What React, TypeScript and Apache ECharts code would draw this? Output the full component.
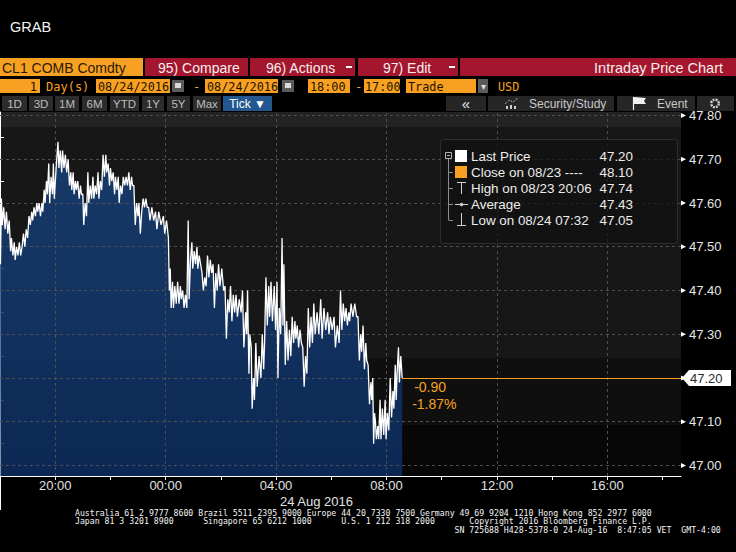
import React, { useEffect, useRef } from 'react';
import * as echarts from 'echarts';

// ---------- data ----------
const tickTimes: string[] = [
  '18:00','18:01','18:03','18:05','18:08','18:11','18:14','18:17','18:20','18:23','18:25','18:28','18:31','18:33','18:36','18:39','18:42','18:45','18:48','18:51','18:54','18:57',
  '19:00','19:03','19:06','19:09','19:11','19:14','19:17','19:20','19:22','19:25','19:28','19:31','19:33','19:36','19:38','19:41','19:43','19:46','19:48','19:51','19:54','19:56','19:58',
  '20:02','20:04','20:06','20:08','20:11','20:14','20:16','20:19','20:22','20:25','20:28','20:31','20:34','20:36','20:39','20:41','20:44','20:46','20:49','20:52','20:55','20:57',
  '21:00','21:02','21:05','21:08','21:11','21:13','21:16','21:19','21:22','21:24','21:27','21:30','21:33','21:35','21:38','21:41','21:44','21:47','21:50','21:52','21:55','21:58',
  '22:00','22:03','22:06','22:09','22:11','22:14','22:17','22:19','22:22','22:25','22:28','22:31','22:34','22:37','22:40','22:43','22:46','22:48','22:51','22:54','22:57',
  '23:00','23:02','23:05','23:08','23:11','23:14','23:17','23:20','23:23','23:26','23:30','23:34','23:38','23:41','23:45','23:50','23:55','23:58',
  '00:02','00:04','00:06','00:08','00:10','00:12','00:15','00:17','00:20','00:23','00:26','00:29','00:32','00:34','00:37','00:40','00:43','00:46','00:49','00:51','00:54','00:57','00:59',
  '01:02','01:05','01:08','01:10','01:13','01:16','01:19','01:22','01:25','01:28','01:31','01:34','01:37','01:40','01:43','01:46','01:49','01:52','01:55','01:58',
  '02:02','02:06','02:09','02:12','02:15','02:18','02:21','02:24','02:27','02:30','02:33','02:36','02:40','02:44','02:47','02:50','02:54','02:56','02:58',
  '03:01','03:03','03:06','03:08','03:11','03:13','03:16','03:19','03:23','03:27','03:30','03:33','03:35','03:38','03:41','03:44','03:46','03:49','03:52','03:56','03:59',
  '04:02','04:04','04:07','04:10','04:13','04:15','04:17','04:20','04:23','04:26','04:29','04:32','04:35','04:38','04:41','04:43','04:46','04:49','04:52','04:55','04:58',
  '05:01','05:04','05:07','05:10','05:13','05:16','05:19','05:22','05:25','05:29','05:33','05:37','05:40','05:44','05:48','05:52','05:55','05:58',
  '06:02','06:06','06:09','06:13','06:17','06:20','06:23','06:26','06:29','06:32','06:35','06:38','06:40','06:43','06:47','06:51','06:55','06:58',
  '07:01','07:04','07:06','07:09','07:12','07:15','07:17','07:20','07:23','07:26','07:28','07:30','07:32','07:34','07:36','07:38','07:41','07:43','07:46','07:48','07:51','07:54','07:57','07:59',
  '08:02','08:05','08:08','08:11','08:14','08:16','08:19','08:21','08:23','08:26','08:28','08:31','08:34',
];
const tickPrices: number[] = [
  47.58,47.46,47.61,47.55,47.59,47.54,47.58,47.53,47.56,47.49,47.52,47.48,47.51,47.47,47.50,47.48,47.51,47.48,47.50,47.53,47.50,47.54,
  47.52,47.57,47.55,47.58,47.56,47.59,47.57,47.60,47.58,47.60,47.57,47.60,47.58,47.63,47.60,47.65,47.62,47.69,47.60,47.66,47.62,47.69,47.61,
  47.68,47.71,47.74,47.68,47.72,47.67,47.72,47.68,47.71,47.67,47.70,47.64,47.67,47.63,47.67,47.62,47.65,47.63,47.65,47.61,47.64,47.62,
  47.62,47.55,47.60,47.57,47.67,47.60,47.64,47.61,47.66,47.61,47.64,47.62,47.67,47.61,47.65,47.63,47.71,47.66,47.71,47.67,47.69,47.64,
  47.68,47.65,47.67,47.62,47.66,47.63,47.66,47.60,47.64,47.62,47.66,47.64,47.66,47.64,47.67,47.63,47.66,47.64,47.64,47.55,47.60,
  47.57,47.60,47.53,47.58,47.61,47.59,47.61,47.59,47.59,47.56,47.59,47.56,47.58,47.54,47.58,47.55,47.57,47.53,
  47.56,47.54,47.52,47.40,47.45,47.36,47.42,47.36,47.41,47.37,47.42,47.37,47.41,47.38,47.40,47.36,47.39,47.36,47.56,47.38,47.47,47.51,47.45,
  47.49,47.46,47.50,47.45,47.48,47.46,47.44,47.40,47.43,47.41,47.48,47.43,47.47,47.44,47.46,47.36,47.44,47.40,47.46,47.41,
  47.45,47.40,47.41,47.29,47.38,47.35,47.41,47.33,47.39,47.35,47.39,47.34,47.38,47.35,47.40,47.27,47.35,47.30,47.40,
  47.21,47.30,47.27,47.13,47.20,47.15,47.28,47.18,47.25,47.20,47.30,47.22,47.28,47.43,47.32,47.41,47.34,47.42,47.33,47.41,47.31,
  47.42,47.20,47.36,47.30,47.52,47.32,47.46,47.23,47.33,47.24,47.31,47.25,47.34,47.28,47.33,47.29,47.32,47.27,47.31,47.28,47.27,
  47.18,47.25,47.21,47.36,47.27,47.34,47.28,47.37,47.30,47.35,47.30,47.38,47.29,47.36,47.31,47.35,47.30,47.34,
  47.31,47.34,47.27,47.32,47.28,47.40,47.31,47.37,47.33,47.36,47.32,47.35,47.33,47.37,47.34,47.37,47.34,47.34,
  47.24,47.30,47.26,47.32,47.22,47.28,47.24,47.23,47.14,47.19,47.15,47.20,47.05,47.12,47.10,47.06,47.09,47.06,47.15,47.06,47.13,47.07,47.15,47.06,
  47.12,47.08,47.20,47.11,47.17,47.13,47.23,47.15,47.21,47.27,47.19,47.25,47.20,
];

const priceTicks = [47.0, 47.1, 47.2, 47.3, 47.4, 47.5, 47.6, 47.7, 47.8];
const minorPriceTicks = [47.05, 47.15, 47.25, 47.35, 47.45, 47.55, 47.65, 47.75];
const timeLabels = ['20:00', '00:00', '04:00', '08:00', '12:00', '16:00'];
const sessionEnd = '18:40'; // on the following day
const dateLabel = '24 Aug 2016';

const legendLabels = ['Last Price', 'Close on 08/23 ----', 'High on 08/23 20:06', 'Average', 'Low on 08/24 07:32'];
const legendValues = ['47.20', '48.10', '47.74', '47.43', '47.05'];
const lastPrice = 47.2;
const netChange = '-0.90';
const pctChange = '-1.87%';

// footer lines as [column, text] pieces (monospace columns)
const footerLines: [number, string][][] = [
  [[0, 'Australia 61 2 9777 8600 Brazil 5511 2395 9000 Europe 44 20 7330 7500 Germany 49 69 9204 1210 Hong Kong 852 2977 6000']],
  [[0, 'Japan 81 3 3201 8900'], [26, 'Singapore 65 6212 1000'], [54, 'U.S. 1 212 318 2000'], [80, 'Copyright 2016 Bloomberg Finance L.P.']],
  [[77, 'SN 725688 H428-5378-0 24-Aug-16'], [110, '8:47:05 VET'], [123, 'GMT-4:00']],
];

// minutes since the 18:00 session start
const toMin = (t: string) => {
  const [h, m] = t.split(':').map(Number);
  return ((h - 18 + 24) % 24) * 60 + m;
};
const fmtMin = (v: number) => {
  const h = (18 + Math.floor(v / 60)) % 24;
  const m = v % 60;
  return `${String(h).padStart(2, '0')}:${String(m).padStart(2, '0')}`;
};
const NBSP = '\u00a0';
const padLine = (pieces: [number, string][]) => {
  let s = '';
  pieces.forEach(([c, t]) => {
    while (s.length < c) s += NBSP;
    s += t.replace(/ /g, NBSP);
  });
  return s;
};

const ORANGE = '#f7a021';
const RED = '#a3162d';
const SANS = 'Liberation Sans, Arial, sans-serif';
const MONO = 'DejaVu Sans Mono, monospace';

const T = (x: number, y: number, text: string, o: any = {}) => ({
  type: 'text', x, y, z: o.z ?? 30, silent: true,
  style: {
    text, fill: o.fill ?? '#fff', fontSize: o.size ?? 13, fontFamily: o.font ?? SANS,
    fontWeight: o.weight ?? 'normal', lineHeight: o.lh,
    textAlign: o.align ?? 'left', align: o.align ?? 'left',
    textVerticalAlign: o.va ?? 'middle', verticalAlign: o.va ?? 'middle',
  },
});
const R = (x: number, y: number, w: number, h: number, fill: string, o: any = {}) => ({
  type: 'rect', z: o.z ?? 20, silent: true,
  shape: { x, y, width: w, height: h, r: o.r ?? 0 },
  style: { fill, stroke: o.stroke ?? null, lineWidth: o.lw ?? 1 },
});
const L = (x1: number, y1: number, x2: number, y2: number, stroke: string, o: any = {}) => ({
  type: 'line', z: o.z ?? 25, silent: true,
  shape: { x1, y1, x2, y2 },
  style: { stroke, lineWidth: o.lw ?? 1 },
});

export default function App() {
  const ref = useRef<HTMLDivElement>(null);
  useEffect(() => {
    const chart = echarts.init(ref.current!, null, { renderer: 'svg' });
    const data = tickTimes.map((t, i) => [toMin(t), tickPrices[i]]);
    const lastMin = toMin(tickTimes[tickTimes.length - 1]);
    const xMax = 24 * 60 + toMin(sessionEnd);
    const gridX = timeLabels.map(toMin);

    chart.setOption({
      animation: false,
      backgroundColor: '#000',
      grid: { left: 0, right: 55, top: 112, bottom: 76 },
      xAxis: {
        type: 'value', min: 0, max: xMax, interval: 120,
        axisLine: { show: true, lineStyle: { color: '#fff', width: 1 } },
        axisTick: { show: true, length: 4, lineStyle: { color: '#fff' } },
        splitLine: { show: false },
        axisLabel: {
          color: '#e2e2e2', fontSize: 13, fontFamily: SANS, margin: 3,
          showMinLabel: false, showMaxLabel: false,
          formatter: (v: number) => (v % 120 === 0 && timeLabels.includes(fmtMin(v)) ? fmtMin(v) : ''),
        },
      },
      yAxis: {
        type: 'value', position: 'right', min: 46.976, max: 47.808, scale: true,
        axisLine: { show: true, lineStyle: { color: '#fff', width: 1 } },
        axisTick: { show: true, length: 4, lineStyle: { color: '#fff' }, customValues: minorPriceTicks },
        splitLine: { show: false },
        axisLabel: {
          color: '#e6e6e6', fontSize: 13, fontFamily: SANS, margin: 8,
          customValues: priceTicks, formatter: (v: number) => v.toFixed(2),
        },
      },
      series: [
        {
          type: 'line', data, z: 2, symbol: 'none', silent: true,
          lineStyle: { width: 0, opacity: 0 },
          areaStyle: {
            origin: 'start', opacity: 1,
            color: new echarts.graphic.LinearGradient(0, 0, 0, 1, [
              { offset: 0, color: 'rgba(23,64,118,0.86)' },
              { offset: 1, color: 'rgba(13,44,94,0.88)' },
            ]),
          },
        },
        {
          type: 'line', data: [], z: 3, silent: true,
          markLine: {
            silent: true, symbol: 'none', z: 3, label: { show: false },
            lineStyle: { color: '#4f4f4f', type: [3, 3], width: 1 },
            data: [...priceTicks.map((v) => ({ yAxis: v })), ...gridX.map((v) => ({ xAxis: v }))],
          },
        },
        {
          type: 'line', data, z: 6, symbol: 'none', silent: true,
          lineStyle: { color: '#ffffff', width: 1.3 },
          markLine: {
            silent: true, symbol: 'none', z: 7, label: { show: false },
            lineStyle: { color: ORANGE, type: 'solid', width: 1.2 },
            data: [[{ coord: [lastMin, lastPrice] }, { coord: [xMax, lastPrice] }]],
          },
        },
      ],
    });

    const [, yLast] = chart.convertToPixel({ gridIndex: 0 }, [0, lastPrice]) as number[];
    const [xLast] = chart.convertToPixel({ gridIndex: 0 }, [lastMin, lastPrice]) as number[];
    const [xRight] = chart.convertToPixel({ gridIndex: 0 }, [xMax, lastPrice]) as number[];
    const [, yTop] = chart.convertToPixel({ gridIndex: 0 }, [0, 47.808]) as number[];
    const [, yBot] = chart.convertToPixel({ gridIndex: 0 }, [0, 46.976]) as number[];

    const g: any[] = [];
    // plot background bands
    g.push(R(0, yTop, xRight, 15, '#232323', { z: 0 }));
    g.push(R(0, yTop + 15, xRight, 231, '#171717', { z: 0 }));
    g.push(R(0, yTop + 246, xRight, 67, '#0f0f0f', { z: 0 }));
    g.push(R(0, yTop + 313, xRight, yBot - yTop - 313, '#070707', { z: 0 }));

    // arrow-shaped major ticks on the price axis
    priceTicks.forEach((v) => {
      const [, py] = chart.convertToPixel({ gridIndex: 0 }, [0, v]) as number[];
      g.push({ type: 'polygon', z: 26, silent: true, shape: { points: [[xRight, py - 2.5], [xRight + 5, py], [xRight, py + 2.5]] }, style: { fill: '#ffffff' } });
    });

    // title
    g.push(T(10, 27, 'GRAB', { size: 14.5, fill: '#f2f2f2' }));

    // row 1
    g.push(R(0, 58, 143, 18, ORANGE));
    g.push(T(2, 67.5, 'CL1 COMB Comdty', { size: 14, fill: '#2a1c05' }));
    g.push(R(145, 58, 103, 18, RED));
    g.push(T(158, 67.5, '95) Compare', { size: 14, fill: '#f6eeee' }));
    g.push(R(250, 58, 105, 18, RED));
    g.push(T(266, 67.5, '96) Actions', { size: 14, fill: '#f6eeee' }));
    g.push(R(346, 66, 6, 2, '#fff', { z: 25 }));
    g.push(R(358, 58, 100, 18, RED));
    g.push(T(383, 67.5, '97) Edit', { size: 14, fill: '#f6eeee' }));
    g.push(R(449, 66, 6, 2, '#fff', { z: 25 }));
    g.push(R(460, 58, 276, 18, RED));
    g.push(T(723, 67.5, 'Intraday Price Chart', { size: 14.5, fill: '#f6eeee', align: 'right' }));

    // row 2
    const r2y = 79, r2h = 14, r2c = 86.5;
    g.push(R(0, r2y, 40, r2h, ORANGE));
    g.push(T(37, r2c, '1', { size: 12, font: MONO, fill: '#1e1400', align: 'right' }));
    g.push(T(46, r2c, 'Day(s)', { size: 12, font: MONO, fill: ORANGE }));
    g.push(R(96, r2y, 74, r2h, ORANGE));
    g.push(T(98, r2c, '08/24/2016', { size: 11.8, font: MONO, fill: '#1e1400' }));
    g.push(R(172, r2y + 1, 12, 12, '#5b5b5b'));
    g.push(R(175, r2y + 4, 6, 5, '#d8d8d8', { z: 25 }));
    g.push(T(193, r2c, '-', { size: 12, font: MONO, fill: ORANGE }));
    g.push(R(205, r2y, 73, r2h, ORANGE));
    g.push(T(207, r2c, '08/24/2016', { size: 11.8, font: MONO, fill: '#1e1400' }));
    g.push(R(282, r2y + 1, 12, 12, '#5b5b5b'));
    g.push(R(285, r2y + 4, 6, 5, '#d8d8d8', { z: 25 }));
    g.push(R(308, r2y, 42, r2h, ORANGE));
    g.push(T(310, r2c, '18:00', { size: 11.8, font: MONO, fill: '#1e1400' }));
    g.push(T(355, r2c, '-', { size: 12, font: MONO, fill: ORANGE }));
    g.push(R(364, r2y, 36, r2h, ORANGE));
    g.push(T(365, r2c, '17:00', { size: 11.8, font: MONO, fill: '#1e1400' }));
    g.push(R(406, r2y, 70, r2h, ORANGE));
    g.push(T(408, r2c, 'Trade', { size: 11.8, font: MONO, fill: '#1e1400' }));
    g.push(R(478, r2y, 10, r2h, '#5b5b5b'));
    g.push(T(483, r2c, '▾', { size: 10, fill: '#ddd', align: 'center' }));
    g.push(T(498, r2c, 'USD', { size: 11.8, font: MONO, fill: ORANGE }));

    // row 3
    const btns: [string, number, number][] = [
      ['1D', 2, 25], ['3D', 29, 24], ['1M', 55, 24], ['6M', 82, 25], ['YTD', 110, 29],
      ['1Y', 142, 22], ['5Y', 167, 23], ['Max', 193, 28],
    ];
    btns.forEach(([t, x, w]) => {
      g.push(R(x, 96, w, 15, '#2c2c2c'));
      g.push(T(x + w / 2, 103.5, t, { size: 11.5, fill: '#bdbdbd', align: 'center' }));
    });
    g.push(R(223, 96, 49, 15, '#22578f'));
    g.push(T(247.5, 103.5, 'Tick ▼', { size: 12, fill: '#ffffff', align: 'center' }));
    g.push(R(446, 96, 40, 15, '#262626'));
    g.push(T(466, 103, '«', { size: 15, fill: '#e6e6e6', align: 'center' }));
    g.push(R(488, 96, 126, 15, '#262626'));
    g.push({ type: 'polyline', z: 25, silent: true, shape: { points: [[505, 104], [509, 100], [513, 102], [518, 98]] }, style: { stroke: '#cfcfcf', lineWidth: 1, lineDash: [1, 1], fill: null } });
    g.push(R(506, 106, 2, 3, '#cfcfcf', { z: 25 }));
    g.push(R(510, 105, 2, 4, '#cfcfcf', { z: 25 }));
    g.push(R(514, 106, 2, 3, '#cfcfcf', { z: 25 }));
    g.push(T(529, 103.5, 'Security/Study', { size: 12, fill: '#c8c8c8' }));
    g.push(R(617, 96, 78, 15, '#262626'));
    g.push(L(633.5, 97, 633.5, 110, '#f0f0f0', { lw: 1.2 }));
    g.push({ type: 'polygon', z: 25, silent: true, shape: { points: [[634, 97], [646, 98], [644, 101], [646, 104], [634, 104]] }, style: { fill: '#f0f0f0' } });
    g.push(T(657, 103.5, 'Event', { size: 12, fill: '#c8c8c8' }));
    g.push(R(697, 96, 37, 15, '#262626'));
    g.push({ type: 'circle', z: 25, silent: true, shape: { cx: 715, cy: 103.5, r: 3.8 }, style: { fill: '#262626', stroke: '#cfcfcf', lineWidth: 2.4, lineDash: [2, 1] } });

    // legend box
    g.push(R(440.5, 139.5, 237, 104, 'rgba(18,18,18,0.75)', { stroke: '#2e2e2e', r: 3, z: 10 }));
    const rows = [156, 172, 188, 204, 220];
    g.push({ type: 'rect', z: 25, silent: true, shape: { x: 445.5, y: 152.5, width: 6, height: 6 }, style: { fill: null, stroke: '#b5b5b5', lineWidth: 1 } });
    g.push(L(447, 155.5, 450, 155.5, '#b5b5b5'));
    g.push(L(448.5, 159, 448.5, 220, '#8c8c8c'));
    rows.slice(1).forEach((y) => g.push(L(448.5, y + 0.5, 453, y + 0.5, '#8c8c8c')));
    g.push(R(455, 150, 12, 12, '#ffffff', { z: 25 }));
    g.push(R(455, 166, 12, 12, ORANGE, { z: 25 }));
    g.push(L(457, 182.5, 466, 182.5, '#cfcfcf'));
    g.push(L(461.5, 182, 461.5, 194, '#cfcfcf'));
    g.push(L(455, 204.5, 468, 204.5, '#cfcfcf'));
    g.push({ type: 'circle', z: 26, silent: true, shape: { cx: 461.5, cy: 204.5, r: 1.8 }, style: { fill: '#cfcfcf' } });
    g.push(L(461.5, 213, 461.5, 225, '#cfcfcf'));
    g.push(L(457, 225.5, 466, 225.5, '#cfcfcf'));
    legendLabels.forEach((t, i) => {
      g.push(T(471, rows[i], t, { size: 13.4, fill: '#ececec' }));
      g.push(T(633, rows[i], legendValues[i], { size: 13.4, fill: '#ececec', align: 'right' }));
    });

    // last price tag on the axis
    g.push({
      type: 'polygon', z: 30, silent: true,
      shape: { points: [[xRight + 1, yLast], [xRight + 8, yLast - 8], [xRight + 50, yLast - 8], [xRight + 50, yLast + 8], [xRight + 8, yLast + 8]] },
      style: { fill: '#ffffff' },
    });
    g.push(T(xRight + 9, yLast, lastPrice.toFixed(2), { size: 13, fill: '#2a2a2a', z: 31 }));
    g.push(T(xLast + 12, yLast + 9, netChange, { size: 14, fill: ORANGE }));
    g.push(T(xLast + 10, yLast + 26, pctChange, { size: 14, fill: ORANGE }));

    // date label and left separator
    g.push(T(280, 501, dateLabel, { size: 13, fill: '#e2e2e2' }));
    g.push(L(0.5, yBot, 0.5, 510, '#ffffff'));

    // footer (one multi-line monospace block)
    g.push(T(75, 508.6, footerLines.map(padLine).join('\n'), { size: 8.2, font: MONO, fill: '#f4f4f4', lh: 8.4, va: 'top' }));

    chart.setOption({ graphic: { elements: g } });
    return () => chart.dispose();
  }, []);
  return <div ref={ref} style={{ position: 'fixed', left: 0, top: 0, width: 736, height: 552, background: '#000' }} />;
}
